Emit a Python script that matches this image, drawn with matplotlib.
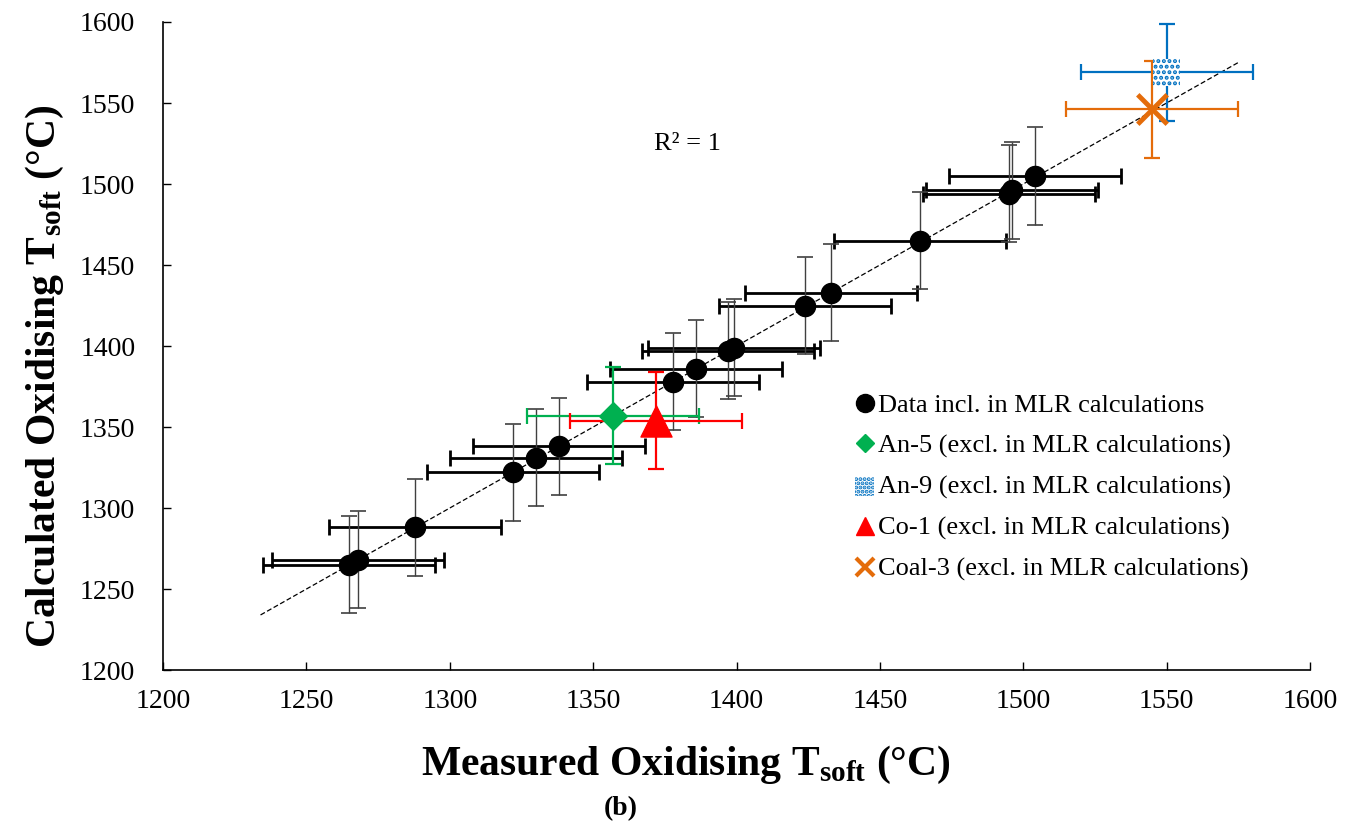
import matplotlib.pyplot as plt
from matplotlib.lines import Line2D

plt.rcParams["font.family"] = ["Liberation Serif", "DejaVu Serif"]
plt.rcParams["mathtext.fontset"] = "custom"
plt.rcParams["mathtext.rm"] = "Liberation Serif"
plt.rcParams["mathtext.bf"] = "Liberation Serif:bold"
plt.rcParams["hatch.linewidth"] = 2.0

# data included in the MLR fit (measured, calculated)
measured = [1265, 1268, 1288, 1322, 1330, 1338, 1378, 1386, 1397, 1399,
            1424, 1433, 1464, 1495, 1496, 1504]
calculated = [1265, 1268, 1288, 1322, 1331, 1338, 1378, 1386, 1397, 1399,
              1425, 1433, 1465, 1494, 1496, 1505]
err = 30

# excluded samples
an5_x, an5_y = [1357], [1357]
an9_x, an9_y = [1550], [1569]
co1_x, co1_y = [1372], [1354]
coal3_x, coal3_y = [1545], [1546]

trend_x = [1234, 1575]
trend_y = [1234, 1575]

fig = plt.figure(figsize=(13.61, 8.27), dpi=100)
ax = fig.add_axes([0.1198, 0.1898, 0.8427, 0.7836])

ax.plot(trend_x, trend_y, color="black", linestyle=(0, (4, 2)), lw=0.9, zorder=1)

# black points: thick x error bars, thin grey y error bars
ax.errorbar(measured, calculated, xerr=err, fmt="none", ecolor="black",
            elinewidth=2, capsize=6, capthick=2, zorder=2)
ax.errorbar(measured, calculated, yerr=err, fmt="none", ecolor="#404040",
            elinewidth=1, capsize=6, capthick=1.2, zorder=2)
ax.scatter(measured, calculated, s=210, color="black", zorder=5)

green = "#00B050"
blue = "#0070C0"
red = "#FF0000"
orange = "#E46C0A"

ax.errorbar(an5_x, an5_y, xerr=err, yerr=err, fmt="none", ecolor=green,
            elinewidth=1.6, capsize=6, capthick=1.6, zorder=3)
ax.scatter(an5_x, an5_y, marker="D", s=200, color=green, zorder=6)

ax.errorbar(an9_x, an9_y, xerr=err, yerr=err, fmt="none", ecolor=blue,
            elinewidth=1.6, capsize=6, capthick=1.6, zorder=3)
ax.scatter(an9_x, an9_y, marker="s", s=380, facecolor="white", edgecolor=blue,
           hatch="...", linewidth=0, zorder=6)

ax.errorbar(co1_x, co1_y, xerr=err, yerr=err, fmt="none", ecolor=red,
            elinewidth=1.6, capsize=6, capthick=1.6, zorder=3)
ax.scatter(co1_x, co1_y, marker="^", s=500, color=red, zorder=6)

ax.errorbar(coal3_x, coal3_y, xerr=err, yerr=err, fmt="none", ecolor=orange,
            elinewidth=1.6, capsize=6, capthick=1.6, zorder=3)
ax.scatter(coal3_x, coal3_y, marker="x", s=450, color=orange, linewidths=3.5, zorder=6)

ax.text(1383, 1525, "R² = 1", fontsize=19, ha="center", va="center")

ax.set_xlim(1200, 1600)
ax.set_ylim(1200, 1600)
ax.set_xticks(range(1200, 1601, 50))
ax.set_yticks(range(1200, 1601, 50))
ax.tick_params(direction="in", length=6, width=1, labelsize=20)
ax.tick_params(axis="x", pad=14)
ax.tick_params(axis="y", pad=20)
ax.spines["top"].set_visible(False)
ax.spines["right"].set_visible(False)
for s in ["left", "bottom"]:
    ax.spines[s].set_linewidth(1.2)

fig.text(0.504, 0.075, r"Measured Oxidising T$_{\mathbf{soft}}$ (°C)",
         fontsize=30, fontweight="bold", ha="center", va="center")
fig.text(0.033, 0.545, r"Calculated Oxidising T$_{\mathbf{soft}}$ (°C)",
         fontsize=30, fontweight="bold", ha="center", va="center", rotation=90)
fig.text(0.456, 0.022, "(b)", fontsize=20, fontweight="bold", ha="center", va="center")

an9_handle = ax.scatter([], [], marker="s", s=180, facecolor="white", edgecolor=blue,
                        hatch="....", linewidth=0)
handles = [
    Line2D([], [], marker="o", color="black", ls="none", markersize=13),
    Line2D([], [], marker="D", color=green, ls="none", markersize=9),
    an9_handle,
    Line2D([], [], marker="^", color=red, ls="none", markersize=13),
    Line2D([], [], marker="x", color=orange, ls="none", markersize=13, mew=3),
]
labels = ["Data incl. in MLR calculations",
          "An-5 (excl. in MLR calculations)",
          "An-9 (excl. in MLR calculations)",
          "Co-1 (excl. in MLR calculations)",
          "Coal-3 (excl. in MLR calculations)"]
ax.legend(handles, labels, loc="upper left", bbox_to_anchor=(0.591, 0.447),
          frameon=False, fontsize=19, handlelength=0.8, handletextpad=0.1,
          labelspacing=0.65, borderpad=0)

fig.savefig("out.png", dpi=100)
